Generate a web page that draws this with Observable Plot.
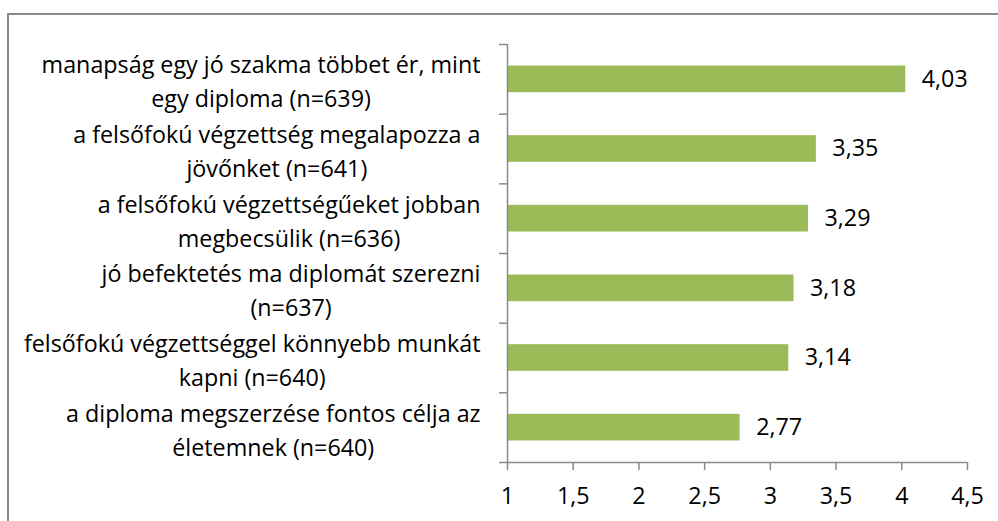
<!DOCTYPE html>
<html>
<head>
<meta charset="utf-8">
<script src="https://cdn.jsdelivr.net/npm/d3@7"></script>
<script src="https://cdn.jsdelivr.net/npm/@observablehq/plot@0.6"></script>
<style>
  html, body { margin: 0; padding: 0; background: #fff; overflow: hidden; }
  #wrap { position: relative; width: 998px; height: 521px; overflow: hidden; }
  #frame { position: absolute; left: 7px; top: 13px; width: 1200px; height: 800px; border: 2px solid #8a8a8a; pointer-events: none; }
  #wrap svg { position: absolute; left: 0; top: 0; }
</style>
</head>
<body>
<div id="wrap"><div id="frame"></div></div>
<script>
const categories = [
  "manapság egy jó szakma többet ér, mint\negy diploma (n=639)",
  "a felsőfokú végzettség megalapozza a\njövőnket (n=641)",
  "a felsőfokú végzettségűeket jobban\nmegbecsülik (n=636)",
  "jó befektetés ma diplomát szerezni\n(n=637)",
  "felsőfokú végzettséggel könnyebb munkát\nkapni (n=640)",
  "a diploma megszerzése fontos célja az\néletemnek (n=640)"
];
const values = [4.03, 3.35, 3.29, 3.18, 3.14, 2.77];
const xTicks = [1, 1.5, 2, 2.5, 3, 3.5, 4, 4.5];

const FONT = "'Open Sans'";
const FS = 23.3;
const LINE = 34;
const fmtTick = d => String(d).replace(".", ",");
const fmtVal = d => d.toFixed(2).replace(".", ",");

const rows = categories.map((c, i) => ({label: c, value: values[i], i}));

const ctx = document.createElement("canvas").getContext("2d");
ctx.font = `${FS}px ${FONT}`;
const blockWidth = s => Math.max(...s.split("\n").map(l => ctx.measureText(l).width));

const labelMarks = rows.map(r => Plot.text([r], {
  x: 1,
  y: d => d.i + 0.5,
  text: "label",
  textAnchor: "middle",
  lineAnchor: "middle",
  lineHeight: LINE / FS,
  dx: -(27 + blockWidth(r.label) / 2),
  fontSize: FS,
  fill: "black"
}));

const chart = Plot.plot({
  width: 998,
  height: 521,
  marginLeft: 507,
  marginRight: 31,
  marginTop: 44,
  marginBottom: 59,
  style: {fontFamily: FONT, fontSize: FS + "px", background: "transparent", color: "black"},
  x: {domain: [1, 4.5]},
  y: {domain: [0, 6], reverse: true},
  marks: [
    Plot.rectX(rows, {x1: 1, x2: "value", y1: "i", y2: d => d.i + 1, insetTop: 21.5, insetBottom: 21.5, fill: "#9BBB59"}),
    Plot.text(rows, {x: "value", y: d => d.i + 0.5, text: d => fmtVal(d.value), dx: 16, textAnchor: "start", fontSize: FS, fill: "black"}),
    Plot.axisY({ticks: d3.range(0, 7), tickSize: 8, tickFormat: () => "", stroke: "#8a8a8a", strokeWidth: 1.5, label: null}),
    Plot.ruleX([1], {stroke: "#8a8a8a", strokeWidth: 1.5}),
    Plot.ruleY([6], {stroke: "#8a8a8a", strokeWidth: 1.5}),
    Plot.axisX({ticks: xTicks, tickSize: 8, tickPadding: 17, tickFormat: fmtTick, stroke: "#8a8a8a", strokeWidth: 1.5, fill: "black", fontSize: FS, label: null}),
    ...labelMarks
  ]
});
document.getElementById("wrap").insertBefore(chart, document.getElementById("frame"));
</script>
</body>
</html>
